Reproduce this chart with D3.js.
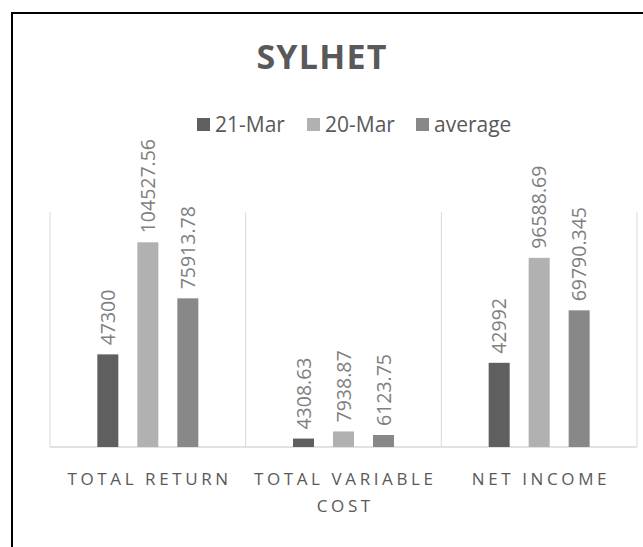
<!DOCTYPE html>
<html><head><meta charset="utf-8">
<script src="https://cdn.jsdelivr.net/npm/d3@7"></script>
<style>
html,body{margin:0;padding:0;background:#fff;}
svg{display:block;font-family:"Open Sans",sans-serif;}
</style></head>
<body>
<svg id="chart" width="643" height="547"></svg>
<script>
const title = "SYLHET";
const categories = [["TOTAL RETURN"], ["TOTAL VARIABLE", "COST"], ["NET INCOME"]];
const seriesNames = ["21-Mar", "20-Mar", "average"];
const seriesColors = ["#5f5f5f", "#b1b1b1", "#888888"];
const mar21 = [47300, 4308.63, 42992];
const mar20 = [104527.56, 7938.87, 96588.69];
const average = [75913.78, 6123.75, 69790.345];
const labels21 = ["47300", "4308.63", "42992"];
const labels20 = ["104527.56", "7938.87", "96588.69"];
const labelsAvg = ["75913.78", "6123.75", "69790.345"];
const yMax = 120000;

const series = [mar21, mar20, average];
const seriesLabels = [labels21, labels20, labelsAvg];

const svg = d3.select("#chart");
// outer border
svg.append("path").attr("d","M12,560 L12,13 L660,13").attr("fill","none").attr("stroke","#000").attr("stroke-width",2);

const pLeft = 50, pRight = 637, pTop = 212, pBottom = 447;
const x = d3.scaleBand().domain(d3.range(categories.length)).range([pLeft, pRight]);
const y = d3.scaleLinear().domain([0, yMax]).range([pBottom, pTop]);
const barW = 21, step = 40;
const xs = d3.scaleLinear().domain([0, 2]).range([-step, step]);

// gridlines (category separators)
const bounds = d3.range(categories.length + 1).map(i => i < categories.length ? x(i) : x(categories.length-1) + x.bandwidth());
svg.append("g").selectAll("line").data(bounds).join("line")
  .attr("x1", d => d).attr("x2", d => d).attr("y1", pTop).attr("y2", pBottom)
  .attr("stroke", "#d9d9d9").attr("stroke-width", 1);
svg.append("line").attr("x1", pLeft).attr("x2", pRight).attr("y1", pBottom).attr("y2", pBottom)
  .attr("stroke", "#d9d9d9").attr("stroke-width", 1.5);

// bars
series.forEach((vals, si) => {
  const g = svg.append("g");
  g.selectAll("rect").data(vals).join("rect")
    .attr("x", (d, i) => x(i) + x.bandwidth()/2 + xs(si) - barW/2)
    .attr("y", d => y(d))
    .attr("width", barW)
    .attr("height", d => y(0) - y(d))
    .attr("fill", seriesColors[si]);
  g.selectAll("text").data(vals).join("text")
    .attr("transform", (d, i) => `translate(${x(i) + x.bandwidth()/2 + xs(si) + 7},${y(d) - 9}) rotate(-90)`)
    .attr("font-size", 19.5).attr("fill", "#7f7f7f")
    .text((d, i) => seriesLabels[si][i]);
});

// category labels
categories.forEach((lines, i) => {
  const t = svg.append("text").attr("text-anchor", "middle").attr("font-size", 17)
    .attr("fill", "#595959").attr("letter-spacing", 3.6);
  lines.forEach((ln, j) => {
    t.append("tspan").attr("x", x(i) + x.bandwidth()/2 + 1.8).attr("y", 485 + j*27).text(ln);
  });
});

// title
svg.append("text").attr("x", 322).attr("y", 69).attr("text-anchor", "middle")
  .attr("font-size", 34).attr("font-weight", "bold").attr("fill", "#595959")
  .attr("letter-spacing", 1.2).text(title);

// legend
const legX = [197, 307, 416];
seriesNames.forEach((n, i) => {
  svg.append("rect").attr("x", legX[i]).attr("y", 118).attr("width", 13).attr("height", 13).attr("fill", seriesColors[i]);
  svg.append("text").attr("x", legX[i] + 18).attr("y", 132).attr("font-size", 21).attr("fill", "#595959").text(n);
});
</script>
</body></html>
